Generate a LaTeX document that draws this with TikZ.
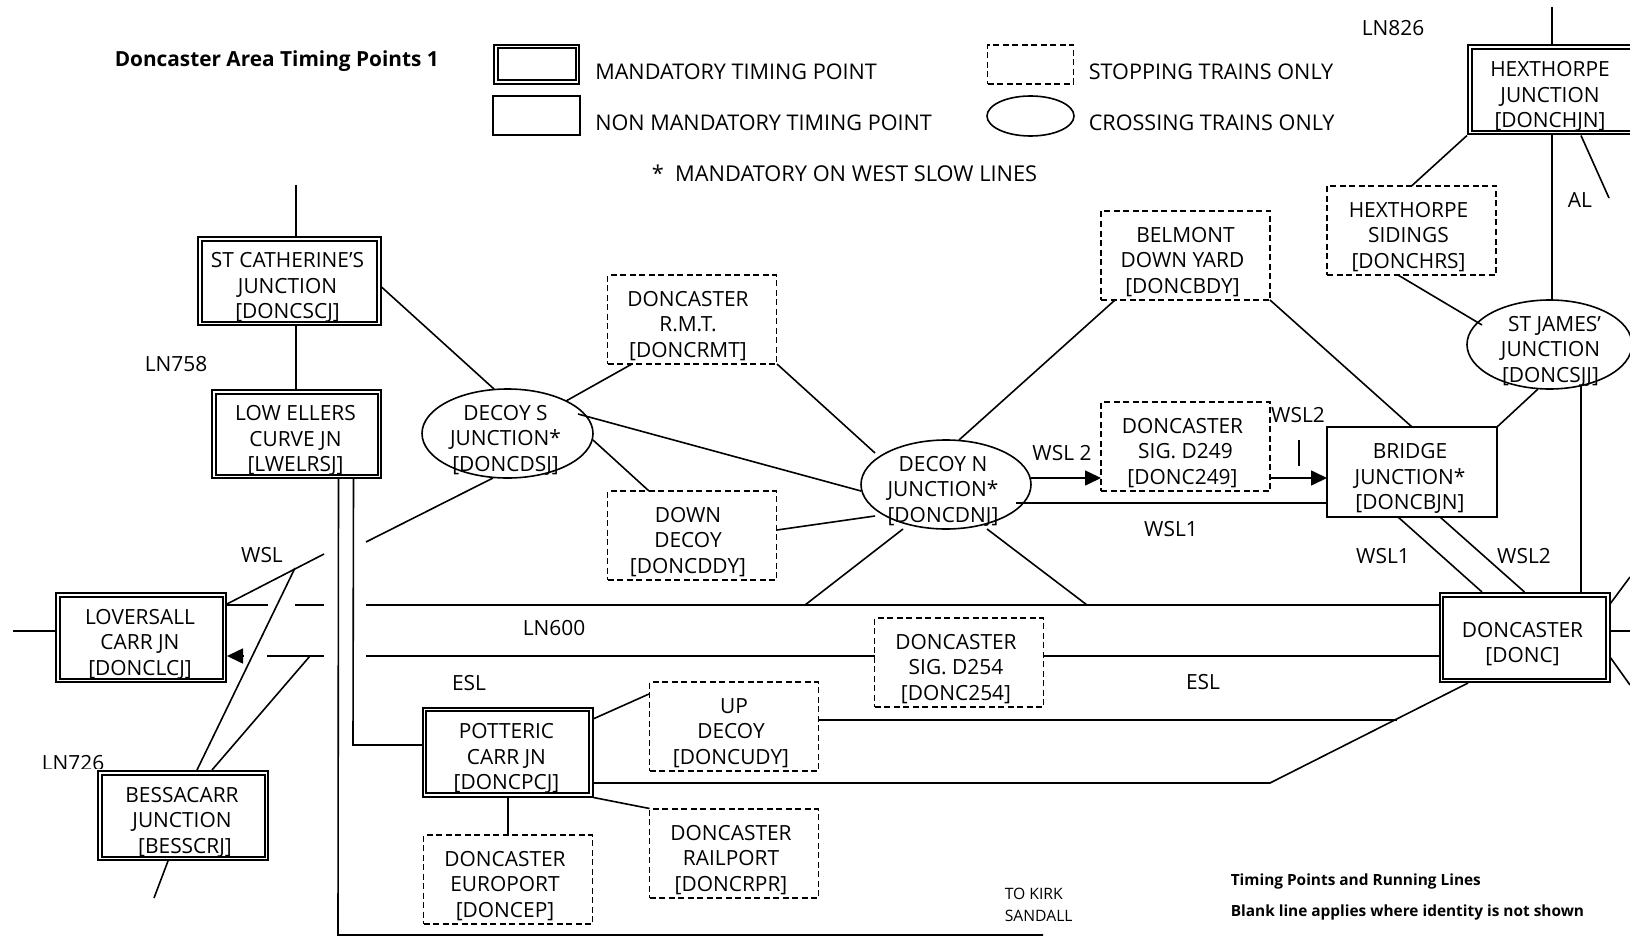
\documentclass[tikz,border=0pt]{standalone}
\usepackage{fontspec}
\setmainfont{Open Sans}
\usetikzlibrary{shapes.geometric,arrows.meta}
\newcommand{\boxlines}[2]{\makebox[0pt][c]{\kern\dimexpr #1pt*2\relax\raisebox{-12.5pt}[0pt][0pt]{\begin{tabular}{@{}c@{}}#2\end{tabular}}}}
\tikzset{
  x=1pt,y=-1pt,
  every node/.style={inner sep=0pt,text=black},
  bigfont/.style={font=\fontsize{20.9}{25.5}\selectfont},
  mandbox/.style={rectangle,draw,bigfont,line width=2pt,double,double distance=1.5pt,outer sep=2.75pt,minimum width=166.5pt,minimum height=85.5pt},
  plainbox/.style={rectangle,draw,bigfont,outer sep=0pt,minimum width=170pt,minimum height=90pt},
  stopbox/.style={rectangle,draw,bigfont,dash pattern=on 6pt off 3.5pt,outer sep=0pt,minimum width=169pt,minimum height=89pt},
  crossell/.style={ellipse,draw,bigfont,outer sep=0pt,minimum width=170pt,minimum height=89pt},
  lbl/.style={bigfont},
  legendtxt/.style={font=\fontsize{21.6}{25.5}\selectfont,anchor=west},
  tiny/.style={font=\fontsize{15.7}{20}\selectfont,anchor=west},
  boldnote/.style={font=\fontsize{15.4}{18}\selectfont\bfseries,anchor=west},
  arrowed/.style={-{Triangle[length=16pt,width=15pt]}}
}
\begin{document}
\begin{tikzpicture}[line width=1.6pt]
\useasboundingbox (0,0) rectangle (1630,936);
% title and legend
\node[font=\fontsize{20.8}{24}\selectfont\bfseries,anchor=west] (title) at (114,61) {Doncaster Area Timing Points 1};
\node[mandbox,minimum width=81.5pt,minimum height=35.5pt] (kmand) at (536.5,64.5) {};
\node[plainbox,minimum width=87pt,minimum height=39pt] (kplain) at (536.5,115.5) {};
\node[stopbox,minimum width=86pt,minimum height=39pt] (kstop) at (1030.5,64.5) {};
\node[crossell,minimum width=87pt,minimum height=40pt] (kcross) at (1030.5,116) {};
\node[legendtxt] (tmand) at (594.5,71.5) {MANDATORY TIMING POINT};
\node[legendtxt] (tplain) at (594.5,122.5) {NON MANDATORY TIMING POINT};
\node[legendtxt] (tstop) at (1088,71.5) {STOPPING TRAINS ONLY};
\node[legendtxt] (tcross) at (1088,122.5) {CROSSING TRAINS ONLY};
\node[legendtxt,font=\fontsize{21.8}{25.5}\selectfont] (tnote) at (651,173.5) {*\ \ MANDATORY ON WEST SLOW LINES};
% timing points
\node[mandbox,minimum width=179pt,minimum height=84.5pt] (stc) at (289.5,281) {\boxlines{-2}{ST CATHERINE'S\\JUNCTION\\{[}DONCSCJ{]}}};
\node[mandbox,minimum width=165.5pt,minimum height=84.5pt] (low) at (296.5,434) {\boxlines{-1}{LOW ELLERS\\CURVE JN\\{[}LWELRSJ{]}}};
\node[crossell,minimum width=171pt] (dsj) at (507.5,433.5) {\boxlines{-2}{DECOY S\\JUNCTION*\\{[}DONCDSJ{]}}};
\node[mandbox] (lov) at (141,637.5) {\boxlines{-1}{LOVERSALL\\CARR JN\\{[}DONCLCJ{]}}};
\node[mandbox] (bes) at (183,815.5) {\boxlines{-1}{BESSACARR\\JUNCTION\\\kern6pt{[}BESSCRJ{]}}};
\node[mandbox] (pot) at (507.5,752) {\boxlines{-1}{POTTERIC\\CARR JN\\{[}DONCPCJ{]}}};
\node[stopbox] (cep) at (508,879.5) {\boxlines{-3}{DONCASTER\\EUROPORT\\{[}DONCEP{]}}};
\node[stopbox] (rpr) at (734,853.5) {\boxlines{-3}{DONCASTER\\RAILPORT\\{[}DONCRPR{]}}};
\node[stopbox] (udy) at (734,726.5) {\boxlines{-3}{\kern6pt UP\\DECOY\\{[}DONCUDY{]}}};
\node[stopbox] (rmt) at (692,319.5) {\boxlines{-4}{DONCASTER\\R.M.T.\\{[}DONCRMT{]}}};
\node[stopbox] (ddy) at (692,535.5) {\boxlines{-4}{DOWN\\DECOY\\{[}DONCDDY{]}}};
\node[crossell] (dnj) at (946,484.5) {\boxlines{-3}{DECOY N\\JUNCTION*\\{[}DONCDNJ{]}}};
\node[stopbox] (d249) at (1185.5,446.5) {\boxlines{-3}{DONCASTER\\\kern6pt SIG. D249\\{[}DONC249{]}}};
\node[stopbox] (d254) at (959,662.5) {\boxlines{-3}{DONCASTER\\SIG. D254\\{[}DONC254{]}}};
\node[stopbox] (bdy) at (1185.5,255.5) {\boxlines{-3}{\kern6pt BELMONT\\DOWN YARD\\{[}DONCBDY{]}}};
\node[stopbox] (hrs) at (1411.5,230.5) {\boxlines{-3}{HEXTHORPE\\SIDINGS\\{[}DONCHRS{]}}};
\node[mandbox] (hjn) at (1553,90) {\boxlines{-3}{HEXTHORPE\\JUNCTION\\{[}DONCHJN{]}}};
\node[crossell,minimum width=165pt] (sjj) at (1549.5,344.5) {\boxlines{1}{\kern8pt ST JAMES'\\JUNCTION\\{[}DONCSJJ{]}}};
\node[plainbox] (bjn) at (1412,472) {\boxlines{-2}{BRIDGE\\JUNCTION*\\{[}DONCBJN{]}}};
\node[mandbox] (don) at (1524.5,637.5) {\boxlines{-2}{DONCASTER\\{[}DONC{]}}};
% line labels
\node[lbl] (l758) at (176,364.5) {LN758};
\node[lbl] (l826) at (1393,28.5) {LN826};
\node[lbl] (lal) at (1580,200) {AL};
\node[lbl] (lwsl) at (262,555) {WSL};
\node[lbl] (l600) at (554,628.5) {LN600};
\node[lbl] (lesla) at (469,683) {ESL};
\node[lbl] (leslb) at (1203,682.5) {ESL};
\node[lbl] (lw2a) at (1062,453.5) {WSL 2};
\node[lbl] (lw2b) at (1298,415.5) {WSL2};
\node[lbl] (lw1a) at (1171,529.5) {WSL1};
\node[lbl] (lw1b) at (1383,556.5) {WSL1};
\node[lbl] (lw2c) at (1524,556.5) {WSL2};
\begin{scope}
\clip (30,740) rectangle (120,768);
\node[lbl] (l726) at (73,763) {LN726};
\end{scope}
\node[tiny] (tkirk) at (1004,894) {TO KIRK};
\node[tiny] (tsand) at (1004,916) {SANDALL};
\node[boldnote] (nta) at (1230,881.5) {Timing Points and Running Lines};
\node[boldnote] (ntb) at (1230,912.5) {Blank line applies where identity is not shown};
% free ends
\coordinate (catN) at (296,185);
\coordinate (wA) at (366,542);
\coordinate (mainA) at (805,605);
\coordinate (mainB) at (1087,605);
\coordinate (hjnN) at (1552,7);
\coordinate (alE) at (1609,198);
\coordinate (doneA) at (1630,577);
\coordinate (doneB) at (1630,631);
\coordinate (doneC) at (1630,685);
\coordinate (upW) at (366,605);
\coordinate (dnW) at (366,656);
\coordinate (bendR) at (1270,783);
\coordinate (udyE) at (1397,720);
\coordinate (bendP) at (353,745);
\coordinate (bendK) at (338,935);
\coordinate (kirkE) at (1043,935);
\coordinate (lovW) at (13,631);
\coordinate (wslE) at (324,554);
\coordinate (gapA) at (268,605);
\coordinate (gapB) at (295,605);
\coordinate (gapC) at (324,605);
\coordinate (gapD) at (267,656);
\coordinate (gapE) at (324,656);
\coordinate (arrB) at (243,656);
\coordinate (xA) at (295,568);
\coordinate (xB) at (310,656);
\coordinate (besS) at (154,898);
\coordinate (tickA) at (1299,440);
\coordinate (tickB) at (1299,466);
% connectors
\draw (catN) -- (catN |- stc.north);
\draw (catN |- stc.south) -- (catN |- low.north);
\draw ([shift={(92,6)}]stc.center) -- ([shift={(-13.5,-44.5)}]dsj.center);
\draw ([shift={(58.5,-32.5)}]dsj.center) -- ([shift={(-60,44.5)}]rmt.center);
\draw ([shift={(70.5,-19.5)}]dsj.center) -- ([shift={(-85,6.5)}]dnj.center);
\draw ([shift={(85.5,6.5)}]dsj.center) -- ([shift={(-43,-44.5)}]ddy.center);
\draw ([shift={(-14.5,44.5)}]dsj.center) -- (wA);
\draw ([shift={(85,44.5)}]rmt.center) -- ([shift={(-71,-31.5)}]dnj.center);
\draw ([shift={(85,-5.5)}]ddy.center) -- ([shift={(-71,31.5)}]dnj.center);
\draw ([shift={(13,-44.5)}]dnj.center) -- ([shift={(-70.5,44.5)}]bdy.center);
\draw[arrowed] ([shift={(85,-6.5)}]dnj.center) -- ([shift={(-84.5,31.5)}]d249.center);
\draw[arrowed] ([shift={(84.5,31.5)}]d249.center) -- ([shift={(-85,6)}]bjn.center);
\draw ([shift={(70,18.5)}]dnj.center) -- ([shift={(-85,31)}]bjn.center);
\draw ([shift={(-43,44.5)}]dnj.center) -- (mainA);
\draw ([shift={(41,44.5)}]dnj.center) -- (mainB);
\draw ([shift={(84.5,44.5)}]bdy.center) -- ([shift={(0,-45)}]bjn.center);
\draw (hjn.south west) -- (hrs.north);
\draw ([shift={(-13.5,44.5)}]hrs.center) -- ([shift={(-67.5,-19.5)}]sjj.center);
\draw (hjnN) -- ([xshift=-1pt]hjn.north);
\draw ([xshift=-1pt]hjn.south) -- ([xshift=2.5pt]sjj.north);
\draw ([xshift=28pt]hjn.south) -- (alE);
\draw ([shift={(-11.5,44.5)}]sjj.center) -- (bjn.north east);
\draw ([shift={(31.5,41)}]sjj.center) -- ([xshift=56.5pt]don.north);
\draw ([shift={(-14,45)}]bjn.center) -- ([xshift=-42.5pt]don.north);
\draw ([shift={(28,45)}]bjn.center) -- (don.north);
\draw ([shift={(85.5,-33.5)}]don.center) -- (doneA);
\draw ([shift={(85.5,-6.5)}]don.center) -- (doneB);
\draw ([shift={(85.5,19.5)}]don.center) -- (doneC);
\draw (upW) -- ([shift={(-85.5,-32.5)}]don.center);
\draw (dnW) -- ([shift={(-84.5,-6.5)}]d254.center);
\draw ([shift={(84.5,-6.5)}]d254.center) -- ([shift={(-85.5,18.5)}]don.center);
\draw ([shift={(-56.5,45.5)}]don.center) -- (bendR) -- ([shift={(85.5,31)}]pot.center);
\draw ([shift={(85,-6.5)}]udy.center) -- (udyE);
\draw ([shift={(85.5,-33)}]pot.center) -- ([shift={(-85,-32.5)}]udy.center);
\draw (pot.south east) -- ([shift={(-84.5,-45)}]rpr.center);
\draw[line width=1.2pt] ([xshift=.5pt]pot.south) -- (cep.north);
\draw ([shift={(57,45)}]low.center) -- (bendP) -- ([shift={(-85.5,-7)}]pot.center);
\draw ([shift={(42,45)}]low.center) -- (bendK) -- (kirkE);
\draw (lovW) -- ([shift={(-86,-6.5)}]lov.center);
\draw ([shift={(86,-33.5)}]lov.center) -- (wslE);
\draw ([shift={(86,-32.5)}]lov.center) -- (gapA);
\draw (gapB) -- (gapC);
\draw (gapD) -- (gapE);
\draw[arrowed] (arrB) -- ([shift={(86,18.5)}]lov.center);
\draw ([xshift=14pt]bes.north) -- (xA);
\draw ([xshift=29pt]bes.north) -- (xB);
\draw ([xshift=-15pt]bes.south) -- (besS);
\draw (tickA) -- (tickB);
\end{tikzpicture}
\end{document}
